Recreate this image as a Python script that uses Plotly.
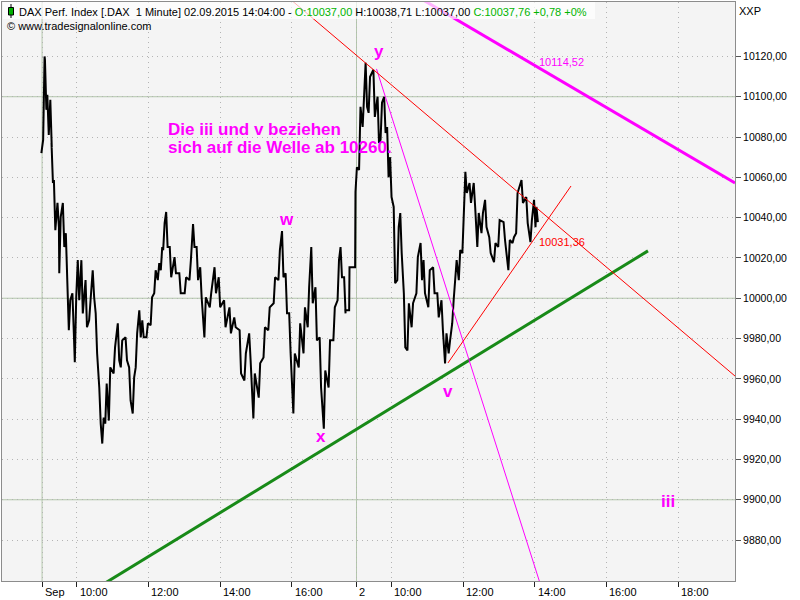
import plotly.graph_objects as go

# ---------------- data (times = minutes after 09:00, prices in index points) ----------------
day1_min = [2, 5, 8, 12, 17, 19, 23, 29, 32, 38, 43, 48, 54, 58, 63, 69, 76, 82, 88, 93,
            99, 104, 109, 115, 123, 130, 135, 143, 149, 155, 160, 166, 171, 178, 185, 191, 197, 202, 206, 211,
            217, 225, 233, 242, 250, 256, 262, 268, 275, 284, 292, 299, 308, 317, 325, 334, 342, 350, 357, 366,
            374, 382, 391, 399, 405, 411, 417, 424, 433, 441, 448, 454, 461, 468, 475, 483, 491, 498, 503, 509]
day1_high = [10078.6, 10120, 10118.4, 10101, 10098.5, 10077, 10058.7, 10047.3, 10040.3, 10047.3,
             10032.3, 9999, 10002.5, 10000.5, 10018.9, 10018.9, 10009, 9999, 10013.9, 9992.5,
             9955.7, 9940.8, 9957.7, 9965.7, 9975.6, 9987.6, 9979.1, 9980.6, 9965.7, 9960.7,
             9982.6, 9994, 9989, 9987.6, 10000.5, 10013.9, 10017.4, 10025.4, 10037.3, 10042.8,
             10025.4, 10020.4, 10012.4, 10010.4, 10018.9, 10036.8, 10025.4, 10015.4, 10000.5, 10002.5,
             10015.4, 10010.4, 9999, 9995.5, 9990.5, 9984.1, 9972.6, 9982.6, 9962.7, 9967.7,
             9985.6, 9995.5, 10010.4, 10023.9, 10033.3, 10012.4, 9992.5, 9972.6, 9987.6, 9995.5,
             10005.5, 10025.4, 10005.5, 9980.6, 9964.2, 9979.1, 9995.5, 10018.9, 10025.4, 10010.4]
day1_low = [10072, 10078.6, 10093.5, 10081, 10075, 10057.2, 10033.8, 10035.3, 10012.4, 10025.4,
            10009, 9984.1, 9982.6, 9968.2, 9999, 9992.5, 9985.6, 9989, 10000.5, 9972.6,
            9937.8, 9927.9, 9937.8, 9939.3, 9962.7, 9969.2, 9965.7, 9969.2, 9949.3, 9942.8,
            9965.7, 9980.6, 9980.6, 9980.6, 9986.6, 10002.5, 10009, 10013.9, 10023.9, 10025.4,
            10010.4, 10012.4, 10002.5, 10002.5, 10009, 10025.4, 10009, 10000.5, 9980.6, 9995.5,
            10002.5, 9995.5, 9985.6, 9982.6, 9985.6, 9962.7, 9959.2, 9969.2, 9940.3, 9950.7,
            9970.6, 9984.1, 9997.5, 10009, 10010.4, 9992.5, 9972.6, 9942.8, 9965.7, 9972.6,
            9985.6, 9997.5, 9979.1, 9955.7, 9935.3, 9955.7, 9979.1, 9999, 10010.4, 9992.5]
# late (post-close) prints of day 1
late_min = [511, 515, 518, 525]
late_price = [9994, 9994, 10015.4, 10015.4]

day2_min = [1, 7, 13, 18, 23, 31, 38, 43, 49, 54, 59, 65, 71, 76, 82, 88, 95, 103, 110, 115,
            123, 131, 138, 145, 151, 157, 163, 168, 174, 180, 185, 192, 199, 205, 212, 218, 225, 233, 240, 249,
            257, 264, 270, 279, 287, 294, 300, 304]
day2_high = [10065, 10095, 10103.5, 10116.9, 10109.9, 10113.4, 10100, 10097, 10100, 10085,
             10070, 10045.3, 10035.3, 10042.3, 10002.5, 9997.5, 9997.5, 10020.4, 10027.4, 10018.9,
             10013.9, 10015.4, 10002.5, 9999, 9982.6, 9979.1, 9999, 10018.9, 10023.9, 10042.3,
             10062.7, 10057.2, 10057.2, 10042.3, 10042.3, 10048.8, 10030.3, 10027.4, 10038.8, 10037.8,
             10028.9, 10030.3, 10052.2, 10058.7, 10050.2, 10038.8, 10048.8, 10045.3]
day2_low = [10052.7, 10063.7, 10085, 10095, 10092, 10090, 10077, 10078.6, 10082, 10060,
            10050.2, 10007.5, 10009, 10022.4, 9975.6, 9974.1, 9985.6, 10002.5, 10009, 10002.5,
            9995.5, 10002.5, 9990.5, 9984.1, 9967.7, 9972.6, 9987.6, 10009, 10009, 10022.4,
            10052.2, 10047.3, 10045.3, 10025.4, 10032.3, 10035.3, 10022.4, 10017.9, 10025.4, 10028.9,
            10013.9, 10027.4, 10032.3, 10047.3, 10037.3, 10027.9, 10035.3, 10037.76]

# drawn trend lines: (session minute, price) end points
red_down_t, red_down_v = [400.4, 1162.3], [10152.7, 9961.4]
red_up_t, red_up_v = [681.7, 887.7], [9967.9, 10055.7]
mag_thin_t, mag_thin_v = [562.0, 844.6], [10113.8, 9850.4]
mag_thick_t, mag_thick_v = [631.4, 1162.3], [10149.5, 10057.2]
green_t, green_v = [82.3, 1016.6], [9854.1, 10023.5]

# axis ticks
DAY2 = 527  # continuous session-minute index where the second day starts
x_tick_min = [2, 60, 180, 300, 420, DAY2 + 1.5, DAY2 + 60, DAY2 + 180, DAY2 + 300, DAY2 + 420, DAY2 + 540]
x_tick_text = ["Sep", "10:00", "12:00", "14:00", "16:00", "2", "10:00", "12:00", "14:00", "16:00", "18:00"]
day_start_min = [2, DAY2 + 1.5]
y_tick_vals = list(range(9880, 10121, 20))
y_tick_text = [f"{v},00" for v in y_tick_vals]
y_major = [9900, 10000, 10100]

# ---------------- layout helpers ----------------
W, H = 800, 600
ML, MR, MT, MB = 2, 65, 2, 19
PW, PH = W - ML - MR, H - MT - MB


def xp(px):
    return (px - ML) / PW


def yp(py):
    return 1 - (py - MT) / PH


def zigzag(t, hi, lo, off=0.0):
    xs, ys = [], []
    n = len(t)
    for i in range(n):
        mid = (hi[i] + lo[i]) / 2
        up = (i + 1 < n) and ((hi[i + 1] + lo[i + 1]) / 2 > mid)
        a, b = (lo[i], hi[i]) if up else (hi[i], lo[i])
        xs += [off + t[i] - 1.2, off + t[i] + 1.2]
        ys += [a, b]
    return xs, ys


x1, y1 = zigzag(day1_min + late_min, day1_high + late_price, day1_low + late_price)
x2, y2 = zigzag(day2_min, day2_high, day2_low, off=DAY2)

FONT = "Liberation Sans"
MAG = "#ff00ff"

fig = go.Figure()
fig.add_trace(go.Scatter(x=x1 + x2, y=y1 + y2, mode="lines",
                         line=dict(color="black", width=2.0), hoverinfo="skip"))
fig.add_trace(go.Scatter(x=green_t, y=green_v, mode="lines", line=dict(color="#188a18", width=3)))
fig.add_trace(go.Scatter(x=mag_thick_t, y=mag_thick_v, mode="lines", line=dict(color=MAG, width=3)))
fig.add_trace(go.Scatter(x=mag_thin_t, y=mag_thin_v, mode="lines", line=dict(color=MAG, width=1)))
fig.add_trace(go.Scatter(x=red_down_t, y=red_down_v, mode="lines", line=dict(color="#ff0000", width=1)))
fig.add_trace(go.Scatter(x=red_up_t, y=red_up_v, mode="lines", line=dict(color="#ff0000", width=1)))

shapes = []
for v in y_major:
    shapes.append(dict(type="line", xref="paper", x0=0, x1=1, yref="y", y0=v, y1=v,
                       line=dict(color="#b3c7ab", width=1), layer="below"))
for m in day_start_min:
    shapes.append(dict(type="line", yref="paper", y0=0, y1=1, xref="x", x0=m, x1=m,
                       line=dict(color="#b3c7ab", width=1), layer="below"))
# header box (semi-transparent) and candle icon
shapes.append(dict(type="rect", xref="paper", yref="paper", x0=xp(3), x1=xp(595), y0=yp(19), y1=yp(2),
                   fillcolor="white", opacity=0.7, line=dict(width=0), layer="above"))
shapes.append(dict(type="line", xref="paper", yref="paper", x0=xp(11), x1=xp(11), y0=yp(18), y1=yp(4),
                   line=dict(color="black", width=1), layer="above"))
shapes.append(dict(type="rect", xref="paper", yref="paper", x0=xp(8.5), x1=xp(13.5), y0=yp(15), y1=yp(7.5),
                   fillcolor="#00b000", line=dict(color="black", width=1), layer="above"))

ann = []


def add_text(text, px, py, size=11, color="black", anchor="left", bold=False, family=FONT):
    if bold:
        text = f"<b>{text}</b>"
    ann.append(dict(text=text, x=xp(px), y=yp(py), xref="paper", yref="paper", showarrow=False,
                    xanchor=anchor, yanchor="middle", font=dict(family=family, size=size, color=color)))


GREEN = "#00b400"
header = ("DAX Perf. Index [.DAX\u00a0\u00a01 Minute] 02.09.2015 14:04:00 - "
          f"<span style='color:{GREEN}'>O:10037,00</span> H:10038,71 L:10037,00 "
          f"<span style='color:{GREEN}'>C:10037,76 +0,78 +0%</span>")
add_text(header, 17, 12.5)
add_text("© www.tradesignalonline.com", 5, 26)
add_text("XXP", 737, 10.5)

for m, lab in zip(x_tick_min, x_tick_text):
    px = 40.87 + m * 0.5972
    add_text(lab, px + 1, 592)

add_text("y", 379, 51, size=17, color=MAG, anchor="center", bold=True)
add_text("w", 286, 220, size=17, color=MAG, anchor="center", bold=True)
add_text("x", 321, 436, size=17, color=MAG, anchor="center", bold=True)
add_text("v", 448, 392, size=17, color=MAG, anchor="center", bold=True)
add_text("iii", 667.5, 501, size=17, color=MAG, anchor="center", bold=True)
add_text("Die iii und v beziehen", 166, 129, size=17, color=MAG, bold=True)
add_text("sich auf die Welle ab 10260.", 166, 148, size=17, color=MAG, bold=True)
add_text("10114,52", 537, 61.5, color=MAG)
add_text("10031,36", 537, 241.5, color="#ff0000")

fig.update_layout(
    width=W, height=H, margin=dict(l=ML, r=MR, t=MT, b=MB),
    paper_bgcolor="white", plot_bgcolor="#f4f4f4", showlegend=False,
    shapes=shapes, annotations=ann,
    font=dict(family=FONT, size=11, color="black"),
    xaxis=dict(range=[-65.1, 1162.3], tickvals=x_tick_min, showticklabels=False,
               ticks="outside", ticklen=5, tickcolor="#222", showgrid=True, gridcolor="#b4b4b4",
               griddash="1px,4px", gridwidth=1, zeroline=False,
               showline=True, linecolor="#8c8c8c", linewidth=1, mirror=True, fixedrange=True),
    yaxis=dict(range=[9859.7, 10147.0], side="right", tickvals=y_tick_vals, ticktext=y_tick_text,
               ticks="outside", ticklen=5, tickcolor="#555", showgrid=True, gridcolor="#b4b4b4",
               griddash="1px,4px", gridwidth=1, zeroline=False,
               tickfont=dict(family=FONT, size=10.5, color="black"),
               showline=True, linecolor="#8c8c8c", linewidth=1, mirror=True, fixedrange=True),
)

fig.write_html("out.html", config={"displayModeBar": False},
               post_script="document.body.style.margin='0';document.body.style.overflow='hidden';")
